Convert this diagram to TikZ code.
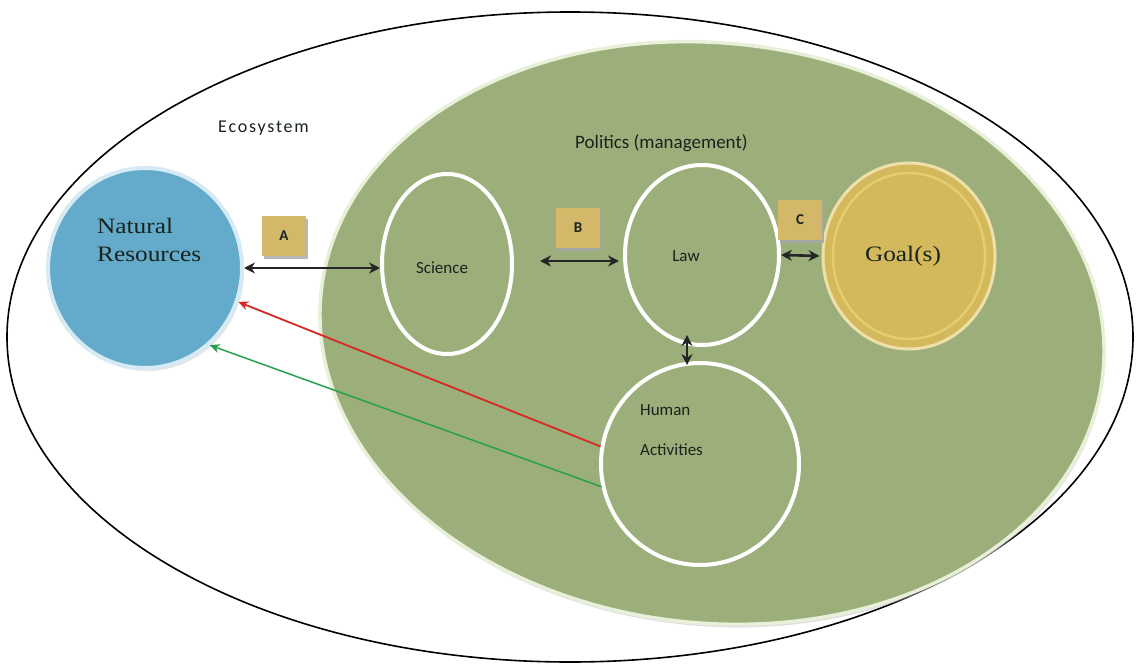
\documentclass[tikz,border=0pt]{standalone}
\usepackage{fontspec}
\setmainfont{Liberation Serif}[FakeStretch=1.15]
\setsansfont{Carlito}
\usetikzlibrary{arrows.meta,shapes.geometric,shadows}
\definecolor{ecogreen}{RGB}{156,175,122}
\definecolor{ecorim}{RGB}{232,240,218}
\definecolor{nrblue}{RGB}{99,170,203}
\definecolor{nrrim}{RGB}{214,234,243}
\definecolor{goalyel}{RGB}{212,184,92}
\definecolor{goalrim}{RGB}{228,204,112}
\definecolor{boxtan}{RGB}{211,184,106}
\definecolor{txtdark}{RGB}{25,35,30}
\definecolor{redarr}{RGB}{215,40,35}
\definecolor{greenarr}{RGB}{40,160,80}
\begin{document}
\begin{tikzpicture}[x=1pt,y=-1pt,
  sanslbl/.style={font=\sffamily\fontsize{17}{20}\selectfont, text=txtdark, inner sep=0pt},
  seriflbl/.style={font=\rmfamily\fontsize{22}{36}\selectfont, text=txtdark, inner sep=0pt},
  ring/.style={ellipse, draw=white, line width=4pt, fill=ecogreen, inner sep=0pt},
  tagbox/.style={rectangle, fill=boxtan, minimum width=44pt, minimum height=40pt, inner sep=0pt,
     font=\sffamily\bfseries\fontsize{15}{18}\selectfont, text=txtdark,
     drop shadow={shadow xshift=2pt, shadow yshift=-3pt, fill=gray!70, opacity=.8}},
  dbl/.style={{Stealth[length=11pt,width=11pt]}-{Stealth[length=11pt,width=11pt]}, line width=2.6pt, draw=black!85},
  onearr/.style={-{Stealth[length=10pt,width=9pt]}, line width=1.8pt}
]
\useasboundingbox (0,0) rectangle (1137,666);
\fill[white] (0,0) rectangle (1137,666);
% ecosystem
\node[ellipse, draw=black, line width=1.6pt, minimum width=1126pt, minimum height=650pt, inner sep=0pt] (eco) at (570,337) {};
% politics
\node[ellipse, fill=ecogreen, draw=ecorim, line width=3.5pt, minimum width=786pt, minimum height=580pt, inner sep=0pt, rotate=-6,
  drop shadow={shadow xshift=1pt, shadow yshift=-3pt, fill=gray!50}] (pol) at (712,333) {};
\node[sanslbl, anchor=west, font=\sffamily\fontsize{18}{20}\selectfont\addfontfeatures{LetterSpace=10}] (ecot) at (218,128) {Ecosystem};
\node[sanslbl, anchor=west, font=\sffamily\fontsize{19}{22}\selectfont] (polt) at (575,143) {Politics (management)};
% natural resources
\node[ellipse, fill=nrblue, draw=nrrim, line width=4pt, minimum width=194pt, minimum height=200pt, inner sep=0pt,
  drop shadow={shadow xshift=2pt, shadow yshift=-3pt, fill=gray!40}] (nr) at (145,268) {};
\node[seriflbl, align=left, anchor=north west] (nrt) at (97,218) {Natural\\[-8pt]Resources};
% science, law, human
\node[ring, minimum width=130pt, minimum height=180pt] (sci) at (447,264) {};
\node[sanslbl] (scit) at (442,268) {Science};
\node[ring, minimum width=154pt, minimum height=180pt] (law) at (702,255) {};
\node[sanslbl] (lawt) at (686,256) {Law};
\node[ring, minimum width=198pt, minimum height=202pt] (hum) at (700,464) {};
\node[sanslbl, align=left, anchor=west] (humt) at (640,430) {Human\\[20pt]Activities};
% goal
\node[ellipse, fill=goalyel, draw=goalrim!60!white, line width=3pt, minimum width=172pt, minimum height=186pt, inner sep=0pt] (goal) at (909,256) {};
\draw[goalrim, line width=2.5pt] (goal.center) ellipse [x radius=76pt, y radius=83pt];
\node[seriflbl] (goalt) at (903,256) {Goal(s)};
% tag boxes
\node[tagbox] (ta) at (284,236) {A};
\node[tagbox] (tb) at (578,228) {B};
\node[tagbox] (tc) at (800,220) {C};
% connectors
\draw[dbl] (nr.east) -- (nr.east -| sci.west);
\draw[dbl, shorten <=26pt, shorten >=4pt] ([yshift=3pt]sci.east) -- ([yshift=3pt]sci.east -| law.west);
\draw[dbl, shorten >=2pt] (law.east) -- (goal.west);
\draw[dbl, shorten <=-12pt, shorten >=-4pt] ([xshift=-15pt]law.south) -- ([xshift=-13pt]hum.north);
\draw[onearr, draw=redarr] (hum.170) -- (nr.-20);
\draw[onearr, draw=greenarr, line width=1.5pt] (hum.193) -- (nr.-50);
\end{tikzpicture}
\end{document}
